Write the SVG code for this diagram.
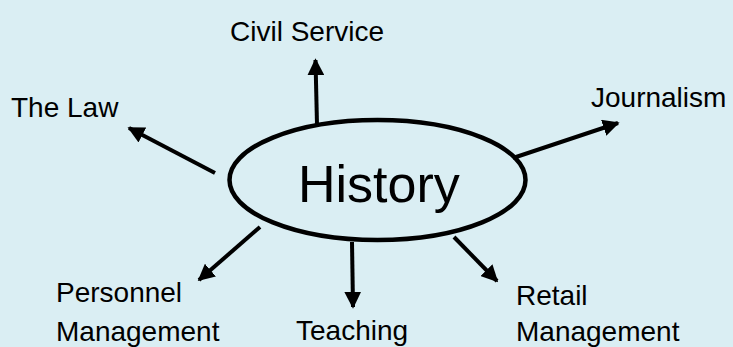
<svg xmlns="http://www.w3.org/2000/svg" width="733" height="347" viewBox="0 0 733 347">
<defs>
<style>
.lbl{font-family:"Liberation Sans",Arial,sans-serif;font-size:28px;fill:#000}
.big{font-family:"Liberation Sans",Arial,sans-serif;font-size:52px;fill:#000}
.conn{stroke:#000;stroke-width:4;fill:none;marker-end:url(#ah)}
</style>
<marker id="ah" viewBox="0 0 10 10" refX="9" refY="5" markerWidth="4.2" markerHeight="4.2" orient="auto" markerUnits="strokeWidth">
<path d="M0,0 L10,5 L0,10 z" fill="#000"/>
</marker>
</defs>
<rect width="733" height="347" fill="#DAEEF3"/>
<g id="connectors">
<line class="conn" x1="317" y1="125" x2="315.5" y2="60"/>
<line class="conn" x1="215" y1="173" x2="129" y2="128"/>
<line class="conn" x1="260" y1="227" x2="199" y2="280"/>
<line class="conn" x1="352" y1="242" x2="353" y2="307"/>
<line class="conn" x1="454" y1="237" x2="497" y2="281"/>
<line class="conn" x1="513" y1="158" x2="618" y2="123"/>
</g>
<g id="history">
<ellipse cx="377.5" cy="180" rx="148" ry="60" fill="none" stroke="#000" stroke-width="4.5"/>
<text class="big" x="298" y="202">History</text>
</g>
<g id="civil-service"><text class="lbl" x="230" y="41">Civil Service</text></g>
<g id="the-law"><text class="lbl" x="11" y="117">The Law</text></g>
<g id="journalism"><text class="lbl" x="591" y="107">Journalism</text></g>
<g id="personnel-management"><text class="lbl" x="56" y="302">Personnel</text><text class="lbl" x="56" y="341">Management</text></g>
<g id="teaching"><text class="lbl" x="296" y="340">Teaching</text></g>
<g id="retail-management"><text class="lbl" x="516" y="305">Retail</text><text class="lbl" x="516" y="341">Management</text></g>
</svg>
